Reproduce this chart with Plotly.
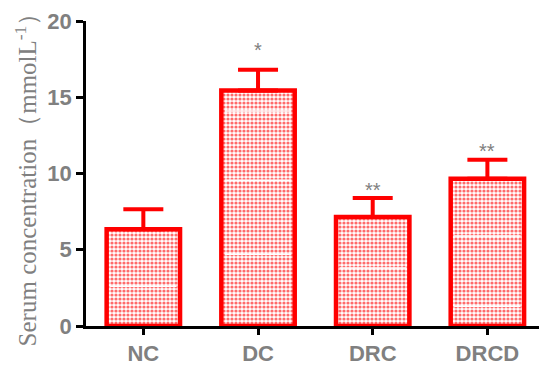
import plotly.graph_objects as go

# Group labels and measured serum concentrations (mmol/L)
groups = ["NC", "DC", "DRC", "DRCD"]
means = [6.35, 15.45, 7.15, 9.65]
sem = [1.3, 1.35, 1.25, 1.25]
marks = ["", "*", "**", "**"]
# gap between the error cap and the significance mark (mmol/L)
mark_gap = [0, 1.5, 0.7, 0.8]
# faint seam lines inside each bar (value levels)
seams = [[2.6], [4.7, 9.55, 14.1], [3.8], [1.3, 5.9]]

y_ticks = [0, 5, 10, 15, 20]

RED = "#ff0000"
GRAY = "#808080"

fig = go.Figure()
fig.add_trace(go.Bar(
    x=groups, y=means, width=0.64,
    marker=dict(
        color="#ff6b6b",
        line=dict(color=RED, width=4.5),
        pattern=dict(shape=".", fgcolor="#ff6b6b", bgcolor="white",
                     size=4, solidity=0.5, fillmode="replace"),
    ),
    error_y=dict(type="data", array=sem, symmetric=False, arrayminus=[0] * 4,
                 color=RED, thickness=4, width=20),
    showlegend=False,
))

# seam lines inside bars
for i, lv in enumerate(seams):
    for v in lv:
        fig.add_shape(type="line", xref="x", yref="y",
                      x0=i - 0.29, x1=i + 0.29, y0=v, y1=v,
                      line=dict(color="white", width=1.5))

# significance marks
for g, m, s, e, gap in zip(groups, marks, means, sem, mark_gap):
    if m:
        fig.add_annotation(x=g, y=s + e + gap, text=m, showarrow=False,
                           yanchor="middle", yshift=-3,
                           font=dict(family="Liberation Sans", size=20, color=GRAY))

fig.update_layout(
    width=539, height=365,
    margin=dict(l=86, r=0, t=21, b=39),
    plot_bgcolor="white", paper_bgcolor="white",
    bargap=0.3,
    xaxis=dict(
        range=[-0.5, 3.45], showline=True, linecolor="black", linewidth=2.5,
        ticks="outside", ticklen=6, tickwidth=2.5, tickcolor="black",
        tickfont=dict(family="Liberation Sans", size=22, color=GRAY, weight="bold"),
        showgrid=False, zeroline=False,
    ),
    yaxis=dict(
        range=[0, 20], tickvals=y_ticks, showline=True, linecolor="black",
        linewidth=2.5, ticks="outside", ticklen=7, tickwidth=2.5,
        tickcolor="black", showgrid=False, zeroline=False,
        tickfont=dict(family="Liberation Sans", size=22, color=GRAY, weight="bold"),
        title=dict(text="Serum concentration（mmolL<sup>-1</sup>）",
                   font=dict(family="Liberation Serif", size=25, color=GRAY),
                   standoff=4),
    ),
)

fig.write_html("out.html")
